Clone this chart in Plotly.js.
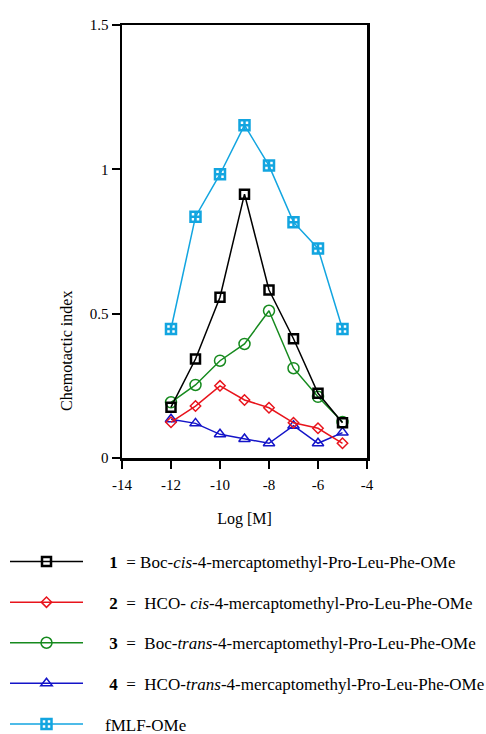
<!DOCTYPE html>
<html>
<head>
<meta charset="utf-8">
<script src="https://cdn.plot.ly/plotly-3.0.1.min.js"></script>
<style>html,body{margin:0;padding:0;background:#fff;}#chart{width:486px;height:734px;}</style>
</head>
<body>
<div id="chart"></div>
<script>
const logM = [-12, -11, -10, -9, -8, -7, -6, -5];
const cmpd1 = [0.176, 0.343, 0.557, 0.914, 0.582, 0.413, 0.224, 0.122];
const cmpd2 = [0.124, 0.180, 0.250, 0.201, 0.174, 0.122, 0.103, 0.051];
const cmpd3 = [0.193, 0.253, 0.337, 0.395, 0.510, 0.311, 0.212, 0.125];
const cmpd4 = [0.134, 0.120, 0.082, 0.066, 0.051, 0.112, 0.051, 0.088];
const fmlf  = [0.447, 0.836, 0.983, 1.153, 1.013, 0.817, 0.726, 0.447];
const pad = '\u00A0\u00A0\u00A0\u00A0\u00A0';
const names = [
  pad + "<b>1</b>  = Boc-<i>cis</i>-4-mercaptomethyl-Pro-Leu-Phe-OMe",
  pad + "<b>2</b>  =  HCO- <i>cis</i>-4-mercaptomethyl-Pro-Leu-Phe-OMe",
  pad + "<b>3</b>  =  Boc-<i>trans</i>-4-mercaptomethyl-Pro-Leu-Phe-OMe",
  pad + "<b>4</b>  =  HCO-<i>trans</i>-4-mercaptomethyl-Pro-Leu-Phe-OMe",
  '\u00A0\u00A0\u00A0\u00A0' + "fMLF-OMe"
];
const xTicks = [-14, -12, -10, -8, -6, -4];
const yTicks = [0, 0.5, 1, 1.5];
const yTickText = ["0", "0.5", "1", "1.5"];

function tr(y, name, color, symbol, size, mlw, rank) {
  return {
    x: logM, y: y, name: name, type: 'scatter', mode: 'lines+markers',
    legendgroup: 'g' + rank, legendrank: rank,
    line: {color: color, width: 1.5},
    marker: {symbol: symbol, size: size, color: color, line: {color: color, width: mlw}}
  };
}
const data = [
  tr(fmlf, names[4], '#12a5e0', 'square-cross-open', 10, 2.5, 5),
  tr(cmpd4, names[3], '#1414c8', 'triangle-up-open', 10, 1.5, 4),
  tr(cmpd2, names[1], '#e8141c', 'diamond-open', 8, 1.5, 2),
  tr(cmpd3, names[2], '#168a1e', 'circle-open', 11, 1.5, 3),
  tr(cmpd1, names[0], '#000000', 'square-open', 9, 2.5, 1)
];
const serif = '"Liberation Serif", "Times New Roman", serif';
const tickFont = {family: serif, size: 15, color: '#000'};
const titleFont = {family: serif, size: 16, color: '#000'};
const legendFont = {family: serif, size: 17, color: '#000'};
const layout = {
  width: 486, height: 734,
  margin: {l: 122, r: 119, t: 25, b: 276, autoexpand: false},
  paper_bgcolor: '#fff', plot_bgcolor: '#fff',
  font: tickFont,
  showlegend: true,
  legend: {
    xref: 'paper', yref: 'paper',
    x: (5 - 122) / 245, y: (458 - 544) / 433, xanchor: 'left', yanchor: 'top',
    itemwidth: 73, tracegroupgap: 15.5, traceorder: 'grouped',
    bgcolor: 'rgba(0,0,0,0)', font: legendFont
  },
  xaxis: {
    range: [-14, -4], tickvals: xTicks, ticktext: xTicks.map(String),
    showgrid: false, zeroline: false, showline: true, mirror: true,
    linecolor: '#000', linewidth: 2.5, ticks: 'outside', ticklen: 8, tickwidth: 2, tickcolor: '#000',
    tickfont: tickFont, ticklabelstandoff: 3,
    title: {text: 'Log [M]', font: titleFont, standoff: 22}
  },
  yaxis: {
    range: [0, 1.5], tickvals: yTicks, ticktext: yTickText,
    showgrid: false, zeroline: false, showline: true, mirror: true,
    linecolor: '#000', linewidth: 2.5, ticks: 'outside', ticklen: 8, tickwidth: 2, tickcolor: '#000',
    tickfont: tickFont
  },
  annotations: [{
    text: 'Chemotactic index', xref: 'paper', yref: 'paper',
    x: (66 - 122) / 245, y: (458 - 351) / 433, textangle: -90,
    showarrow: false, font: titleFont, xanchor: 'center', yanchor: 'middle'
  }]
};
Plotly.newPlot('chart', data, layout, {displayModeBar: false, staticPlot: true});
</script>
</body>
</html>
